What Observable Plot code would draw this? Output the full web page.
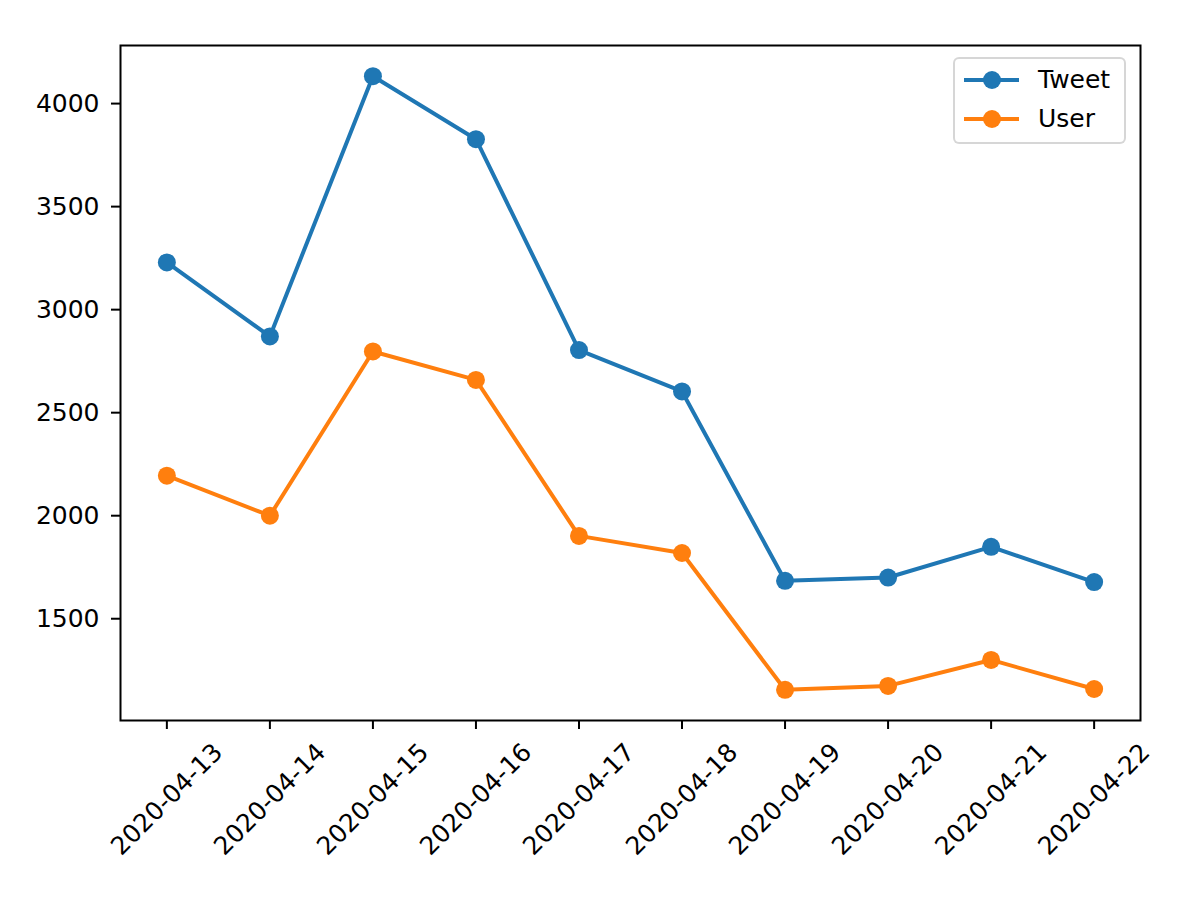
<!DOCTYPE html>
<html><head><meta charset="utf-8">
<script src="https://cdn.jsdelivr.net/npm/d3@7"></script>
<script src="https://cdn.jsdelivr.net/npm/@observablehq/plot@0.6"></script>
<style>
body{margin:0;background:#fff;font-family:"DejaVu Sans",sans-serif;}
#wrap{position:relative;width:1200px;height:900px;}
#legend{position:absolute;left:953px;top:57px;width:173px;height:87px;box-sizing:border-box;border:2px solid rgba(204,204,204,0.8);border-radius:6px;background:rgba(255,255,255,0.8);font-size:25px;color:#000;}
#legend .row{position:absolute;left:0;height:30px;}
#legend svg{position:absolute;left:7px;top:0;}
#legend span{position:absolute;left:83px;top:0;line-height:30px;white-space:nowrap;}
</style></head><body><div id="wrap"><div id="legend"></div></div>
<script>
const dates = ["2020-04-13","2020-04-14","2020-04-15","2020-04-16","2020-04-17","2020-04-18","2020-04-19","2020-04-20","2020-04-21","2020-04-22"];
const tweet = [3229,2870,4133,3827,2804,2603,1684,1700,1849,1678];
const user  = [2194,2000,2797,2659,1902,1819,1155,1174,1300,1159];
const seriesNames = ["Tweet","User"];
const seriesColors = ["#1f77b4","#ff7f0e"];
const yTicks = [1500,2000,2500,3000,3500,4000];

const parse = d3.utcParse("%Y-%m-%d");
const rows = [];
dates.forEach((d,i)=>{
  rows.push({date: parse(d), value: tweet[i], series: seriesNames[0]});
  rows.push({date: parse(d), value: user[i], series: seriesNames[1]});
});
const xs = dates.map(parse);
const xMin = +xs[0], xMax = +xs[xs.length-1], xPad = (xMax-xMin)*0.05;
const allV = tweet.concat(user);
const vMin = d3.min(allV), vMax = d3.max(allV), vPad = (vMax-vMin)*0.05;

const chart = Plot.plot({
  width: 1200, height: 900,
  marginLeft: 120, marginRight: 60, marginTop: 45, marginBottom: 180,
  style: {fontFamily: '"DejaVu Sans", sans-serif', fontSize: "25px", color: "#000", background: "#fff"},
  x: {type: "utc", domain: [new Date(xMin - xPad), new Date(xMax + xPad)]},
  y: {domain: [vMin - vPad, vMax + vPad]},
  color: {domain: seriesNames, range: seriesColors},
  marks: [
    Plot.axisY({ticks: yTicks, tickFormat: d => String(d), tickSize: 9, tickPadding: 12, strokeWidth: 2, fontSize: 25, label: null}),
    Plot.axisX({ticks: xs, tickFormat: d3.utcFormat("%Y-%m-%d"), tickSize: 9, tickRotate: -45, textAnchor: "middle", lineAnchor: "middle", tickPadding: 70, strokeWidth: 2, fontSize: 25, label: null}),
    Plot.line(rows, {x: "date", y: "value", z: "series", stroke: "series", strokeWidth: 4}),
    Plot.dot(rows, {x: "date", y: "value", fill: "series", r: 9, stroke: null}),
    Plot.frame({stroke: "#000", strokeWidth: 2})
  ]
});
document.getElementById("wrap").prepend(chart);

const legend = document.getElementById("legend");
seriesNames.forEach((name, i) => {
  const row = document.createElement("div");
  row.className = "row";
  row.style.top = (i === 0 ? 6 : 45) + "px";
  row.style.width = "170px";
  row.innerHTML = `<svg width="60" height="30"><line x1="2" x2="57" y1="15" y2="15" stroke="${seriesColors[i]}" stroke-width="4"/><circle cx="30" cy="15" r="9" fill="${seriesColors[i]}"/></svg><span>${name}</span>`;
  legend.appendChild(row);
});
</script></body></html>
